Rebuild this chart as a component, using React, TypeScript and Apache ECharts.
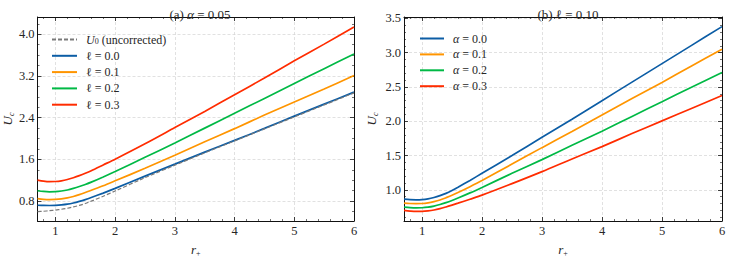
import React, { useEffect, useRef } from 'react';
import * as echarts from 'echarts';

// r_+ sample points
const rVals = [0.7, 0.8, 0.9, 1.0, 1.1, 1.2, 1.3, 1.4, 1.5, 1.6, 1.8, 2.0, 2.5, 3.0, 3.5, 4.0, 4.5, 5.0, 5.5, 6.0];

// Panel (a): alpha = 0.05
const u0Uncorrected = [0.60, 0.607, 0.617, 0.63, 0.645, 0.665, 0.69, 0.72, 0.755, 0.80, 0.895, 0.995, 1.25, 1.49, 1.725, 1.955, 2.185, 2.415, 2.645, 2.875];
const ell00 = [0.722, 0.718, 0.717, 0.72, 0.728, 0.742, 0.765, 0.795, 0.83, 0.87, 0.955, 1.045, 1.28, 1.51, 1.74, 1.965, 2.195, 2.43, 2.66, 2.89];
const ell01 = [0.85, 0.836, 0.83, 0.833, 0.843, 0.862, 0.89, 0.925, 0.965, 1.008, 1.095, 1.19, 1.43, 1.68, 1.94, 2.19, 2.45, 2.70, 2.95, 3.21];
const ell02 = [1.0, 0.986, 0.98, 0.983, 0.995, 1.015, 1.045, 1.08, 1.12, 1.165, 1.265, 1.37, 1.64, 1.915, 2.20, 2.485, 2.77, 3.055, 3.34, 3.62];
const ell03 = [1.205, 1.185, 1.175, 1.177, 1.19, 1.215, 1.25, 1.29, 1.335, 1.385, 1.495, 1.605, 1.90, 2.21, 2.52, 2.84, 3.16, 3.49, 3.81, 4.14];

// Panel (b): ell = 0.10
const alpha00 = [0.863, 0.856, 0.854, 0.857, 0.868, 0.888, 0.915, 0.948, 0.99, 1.037, 1.137, 1.24, 1.50, 1.765, 2.03, 2.30, 2.57, 2.84, 3.11, 3.38];
const alpha01 = [0.807, 0.80, 0.798, 0.80, 0.81, 0.828, 0.852, 0.885, 0.92, 0.96, 1.045, 1.135, 1.375, 1.615, 1.85, 2.09, 2.33, 2.565, 2.81, 3.05];
const alpha02 = [0.748, 0.74, 0.736, 0.738, 0.747, 0.763, 0.785, 0.813, 0.845, 0.88, 0.955, 1.035, 1.24, 1.44, 1.65, 1.855, 2.07, 2.285, 2.50, 2.71];
const alpha03 = [0.70, 0.69, 0.684, 0.685, 0.692, 0.705, 0.725, 0.75, 0.777, 0.805, 0.863, 0.922, 1.09, 1.265, 1.45, 1.63, 1.82, 2.005, 2.19, 2.375];

// Tick labels
const xMajor = [1, 2, 3, 4, 5, 6];
const yMajorA = [0.8, 1.6, 2.4, 3.2, 4.0];
const yMajorB = [1.0, 1.5, 2.0, 2.5, 3.0, 3.5];

const namesA = ['U0', 'ℓ = 0.0', 'ℓ = 0.1', 'ℓ = 0.2', 'ℓ = 0.3'];
const namesB = ['α = 0.0', 'α = 0.1', 'α = 0.2', 'α = 0.3'];

const C_BLUE = '#0C5DA5';
const C_ORANGE = '#FF9500';
const C_GREEN = '#00B945';
const C_RED = '#FF2C00';
const C_GRAY = '#7a7a7a';

const FONT = 'Liberation Serif';
const TXT = '#262626';

function minorTicks(min: number, max: number, step: number, major: number[]) {
  const out: number[] = [];
  const n = Math.round((max - min) / step);
  for (let i = 0; i <= n; i++) {
    const v = Math.round((min + i * step) * 1000) / 1000;
    if (!major.some((m) => Math.abs(m - v) < 1e-6)) out.push(v);
  }
  return out;
}

const legendRich = {
  i: { fontStyle: 'italic', fontFamily: FONT, fontSize: 12, color: TXT, lineHeight: 12 },
  sub: { fontFamily: FONT, fontSize: 8, color: TXT, lineHeight: 12, verticalAlign: 'bottom' },
};
const titleRich = {
  i: { fontStyle: 'italic', fontFamily: FONT, fontSize: 13, color: TXT },
};

function xAxes(gridIndex: number, minor: number[]) {
  const base: any = { type: 'value', gridIndex, min: 0.7, max: 6 };
  const line = { show: true, onZero: false, lineStyle: { color: '#111', width: 1 } };
  return [
    {
      ...base,
      position: 'bottom',
      axisLine: line,
      axisTick: { show: true, inside: true, length: 4, customValues: xMajor, lineStyle: { color: '#111', width: 0.8 } },
      axisLabel: { customValues: xMajor, margin: 3, fontFamily: FONT, fontSize: 12.5, color: TXT, formatter: (v: number) => String(v) },
      splitLine: { show: true, lineStyle: { type: [3, 2], color: '#d4d4d4', width: 0.7 } },
      name: '{ri|r}{sub|+}',
      nameLocation: 'middle',
      nameGap: 21,
      nameTextStyle: { fontFamily: FONT, fontSize: 12, color: TXT, rich: { ri: { fontStyle: 'italic', fontFamily: FONT, fontSize: 13, color: TXT }, sub: { fontFamily: FONT, fontSize: 8, color: TXT, padding: [7, 0, 0, 0] } } },
    },
    {
      ...base,
      position: 'bottom',
      axisLine: { show: false },
      axisTick: { show: true, inside: true, length: 2, customValues: minor, lineStyle: { color: '#111', width: 0.6 } },
      axisLabel: { show: false },
      splitLine: { show: false },
    },
    {
      ...base,
      position: 'top',
      axisLine: line,
      axisTick: { show: true, inside: true, length: 4, customValues: xMajor, lineStyle: { color: '#111', width: 0.8 } },
      axisLabel: { show: false },
      splitLine: { show: false },
    },
    {
      ...base,
      position: 'top',
      axisLine: { show: false },
      axisTick: { show: true, inside: true, length: 2, customValues: minor, lineStyle: { color: '#111', width: 0.6 } },
      axisLabel: { show: false },
      splitLine: { show: false },
    },
  ];
}

function yAxes(gridIndex: number, min: number, max: number, major: number[], minor: number[], nameGap: number) {
  const base: any = { type: 'value', gridIndex, min, max };
  const line = { show: true, onZero: false, lineStyle: { color: '#111', width: 1 } };
  return [
    {
      ...base,
      position: 'left',
      axisLine: line,
      axisTick: { show: true, inside: true, length: 4, customValues: major, lineStyle: { color: '#111', width: 0.8 } },
      axisLabel: { customValues: major, margin: 3, fontFamily: FONT, fontSize: 12.5, color: TXT, formatter: (v: number) => v.toFixed(1) },
      splitLine: { show: true, lineStyle: { type: [3, 2], color: '#d4d4d4', width: 0.7 } },
      name: '{ui|U}{subi|c}',
      nameLocation: 'middle',
      nameGap,
      nameRotate: 90,
      nameTextStyle: { fontFamily: FONT, fontSize: 12, color: TXT, rich: { ui: { fontStyle: 'italic', fontFamily: FONT, fontSize: 13, color: TXT }, subi: { fontFamily: FONT, fontStyle: 'italic', fontSize: 8, color: TXT, padding: [7, 0, 0, 0] } } },
    },
    {
      ...base,
      position: 'left',
      axisLine: { show: false },
      axisTick: { show: true, inside: true, length: 2, customValues: minor, lineStyle: { color: '#111', width: 0.6 } },
      axisLabel: { show: false },
      splitLine: { show: false },
    },
    {
      ...base,
      position: 'right',
      axisLine: line,
      axisTick: { show: true, inside: true, length: 4, customValues: major, lineStyle: { color: '#111', width: 0.8 } },
      axisLabel: { show: false },
      splitLine: { show: false },
    },
    {
      ...base,
      position: 'right',
      axisLine: { show: false },
      axisTick: { show: true, inside: true, length: 2, customValues: minor, lineStyle: { color: '#111', width: 0.6 } },
      axisLabel: { show: false },
      splitLine: { show: false },
    },
  ];
}

function lineSeries(name: string, values: number[], color: string, xi: number, yi: number, dashed = false) {
  return {
    type: 'line',
    name,
    xAxisIndex: xi,
    yAxisIndex: yi,
    data: rVals.map((r, k) => [r, values[k]]),
    smooth: 0.3,
    showSymbol: false,
    symbol: 'circle',
    symbolSize: 0,
    lineStyle: { color, width: dashed ? 1.2 : 1.7, type: dashed ? [4, 2] : 'solid' },
    itemStyle: { color },
    z: dashed ? 3 : 2,
  };
}

export default function App() {
  const ref = useRef<HTMLDivElement>(null);
  useEffect(() => {
    if (!ref.current) return;
    const chart = echarts.init(ref.current, undefined, { renderer: 'svg' });
    const xMinor = minorTicks(0.8, 6, 0.2, xMajor);
    const yMinorA = minorTicks(0.6, 4.2, 0.2, yMajorA);
    const yMinorB = minorTicks(0.6, 3.5, 0.1, yMajorB);

    const legendFormatter = (name: string) => {
      if (name === 'U0') return '{i|U}{sub|0} (uncorrected)';
      if (name.startsWith('α')) return '{i|α}' + name.slice(1);
      return name;
    };

    chart.setOption({
      animation: false,
      backgroundColor: '#fff',
      textStyle: { fontFamily: FONT },
      title: [
        { text: '(a) {i|α} = 0.05', left: 195, top: 3, textAlign: 'center', textStyle: { fontFamily: FONT, fontSize: 13, fontWeight: 'normal', color: TXT, rich: titleRich } },
        { text: '(b) ℓ = 0.10', left: 563, top: 3, textAlign: 'center', textStyle: { fontFamily: FONT, fontSize: 13, fontWeight: 'normal', color: TXT, rich: titleRich } },
      ],
      grid: [
        { left: 36, top: 17, width: 318, height: 212, containLabel: false },
        { left: 404, top: 17, width: 318, height: 212, containLabel: false },
      ],
      xAxis: [...xAxes(0, xMinor), ...xAxes(1, xMinor)],
      yAxis: [...yAxes(0, 0.42, 4.33, yMajorA, yMinorA, 22), ...yAxes(1, 0.545, 3.52, yMajorB, yMinorB, 25)],
      legend: [
        {
          data: namesA,
          left: 46,
          top: 28.5,
          orient: 'vertical',
          itemWidth: 25,
          itemHeight: 12,
          itemGap: 4.3,
          itemStyle: { opacity: 0 },
          formatter: legendFormatter,
          textStyle: { fontFamily: FONT, fontSize: 12, color: TXT, lineHeight: 12, padding: [0, 0, 0, 4], rich: legendRich },
        },
        {
          data: namesB,
          left: 414,
          top: 27.5,
          orient: 'vertical',
          itemWidth: 24,
          itemHeight: 12,
          itemGap: 3.9,
          itemStyle: { opacity: 0 },
          formatter: legendFormatter,
          textStyle: { fontFamily: FONT, fontSize: 12, color: TXT, lineHeight: 12, padding: [0, 0, 0, 4], rich: legendRich },
        },
      ],
      series: [
        lineSeries('U0', u0Uncorrected, C_GRAY, 0, 0, true),
        lineSeries('ℓ = 0.0', ell00, C_BLUE, 0, 0),
        lineSeries('ℓ = 0.1', ell01, C_ORANGE, 0, 0),
        lineSeries('ℓ = 0.2', ell02, C_GREEN, 0, 0),
        lineSeries('ℓ = 0.3', ell03, C_RED, 0, 0),
        lineSeries('α = 0.0', alpha00, C_BLUE, 4, 4),
        lineSeries('α = 0.1', alpha01, C_ORANGE, 4, 4),
        lineSeries('α = 0.2', alpha02, C_GREEN, 4, 4),
        lineSeries('α = 0.3', alpha03, C_RED, 4, 4),
      ],
    });
    return () => chart.dispose();
  }, []);
  return <div ref={ref} style={{ position: 'fixed', left: 0, top: 0, width: 730, height: 262 }} />;
}
